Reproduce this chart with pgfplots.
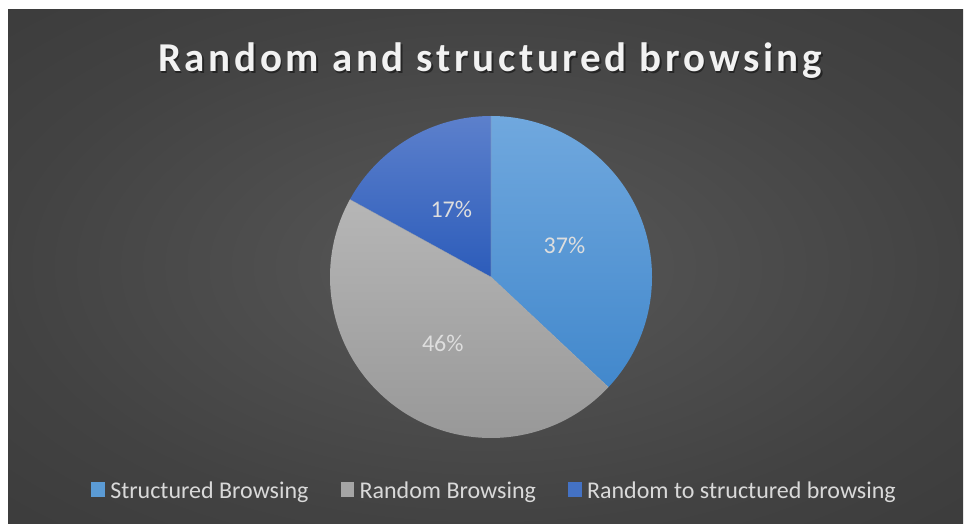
\documentclass[border=0pt]{standalone}
\usepackage{pgfplots}
\pgfplotsset{compat=1.18}
\usepackage{pgfplotstable}
\usepackage{fontspec}
\setmainfont{Carlito}
\newfontfamily\titlefont[LetterSpace=9]{Carlito}

\definecolor{bgin}{RGB}{88,88,88}
\definecolor{bgmid}{RGB}{52,52,52}
\definecolor{bgout}{RGB}{36,36,36}
\definecolor{sbtop}{RGB}{112,168,222}
\definecolor{sbbot}{RGB}{66,136,204}
\definecolor{rbtop}{RGB}{182,182,182}
\definecolor{rbbot}{RGB}{150,150,150}
\definecolor{rstop}{RGB}{92,128,204}
\definecolor{rsbot}{RGB}{44,92,186}
\definecolor{sbleg}{RGB}{91,155,213}
\definecolor{rbleg}{RGB}{165,165,165}
\definecolor{rsleg}{RGB}{68,114,196}
\definecolor{labtext}{RGB}{222,222,222}
\definecolor{legtext}{RGB}{217,217,217}
\definecolor{titletext}{RGB}{242,242,242}

\pgfdeclareradialshading{bgshade}{\pgfpoint{0bp}{0bp}}{color(0bp)=(bgin); color(25bp)=(bgmid!60!bgin); color(50bp)=(bgmid); color(72bp)=(bgout)}

\pgfplotstableread{
label value
Structured 37
Random 46
RandomToStructured 17
}\piedata

\pgfplotstablegetelem{0}{value}\of\piedata \let\va\pgfplotsretval
\pgfplotstablegetelem{1}{value}\of\piedata \let\vb\pgfplotsretval
\pgfplotstablegetelem{2}{value}\of\piedata \let\vc\pgfplotsretval
% angles (clockwise from 12 o'clock)
\pgfmathsetmacro\aA{90}
\pgfmathsetmacro\aB{\aA-3.6*\va}
\pgfmathsetmacro\aC{\aB-3.6*\vb}
\pgfmathsetmacro\aD{\aC-3.6*\vc}
\pgfmathsetmacro\mA{(\aA+\aB)/2}
\pgfmathsetmacro\mB{(\aB+\aC)/2}
\pgfmathsetmacro\mC{(\aC+\aD)/2}

\begin{document}
\begin{tikzpicture}
\fill[white] (0pt,0pt) rectangle (964pt,523pt);
\shade[shading=bgshade] (8pt,0pt) rectangle (963pt,513pt);
\begin{axis}[
  at={(0pt,0pt)}, anchor=south west,
  scale only axis, width=964pt, height=523pt,
  xmin=0, xmax=964, ymin=0, ymax=523,
  hide axis, clip=false,
  legend columns=3,
  legend style={at={(axis cs:91,32)}, anchor=base west, draw=none, fill=none,
    inner sep=0pt, text=legtext, font=\fontsize{24}{28}\selectfont,
    nodes={inner sep=0pt},
    /tikz/every odd column/.append style={column sep=5.5pt},
    /tikz/every even column/.append style={column sep=32pt}},
  legend image code/.code={\fill[#1, draw=none] (0pt,-6pt) rectangle (13.6pt,8.6pt);},
]
\addlegendimage{fill=sbleg, draw=none}
\addlegendentry{Structured Browsing}
\addlegendimage{fill=rbleg, draw=none}
\addlegendentry{Random Browsing}
\addlegendimage{fill=rsleg, draw=none}
\addlegendentry{Random to structured browsing}

\shade[top color=sbtop, bottom color=sbbot]
  (axis cs:491,246) -- ++(\aA:161pt) arc[start angle=\aA, end angle=\aB, radius=161pt] -- cycle;
\shade[top color=rbtop, bottom color=rbbot]
  (axis cs:491,246) -- ++(\aB:161pt) arc[start angle=\aB, end angle=\aC, radius=161pt] -- cycle;
\shade[top color=rstop, bottom color=rsbot]
  (axis cs:491,246) -- ++(\aC:161pt) arc[start angle=\aC, end angle=\aD, radius=161pt] -- cycle;
\draw[black!30, line width=0.3pt] (axis cs:491,246) -- ++(\aA:161pt)
  (axis cs:491,246) -- ++(\aB:161pt)
  (axis cs:491,246) -- ++(\aC:161pt);

\node[text=labtext, font=\fontsize{24}{28}\selectfont] at ([shift={(\mA:80pt)}]axis cs:491,246) {\va\%};
\node[text=labtext, font=\fontsize{24}{28}\selectfont] at ([shift={(\mB:82pt)}]axis cs:491,246) {\vb\%};
\node[text=labtext, font=\fontsize{24}{28}\selectfont] at ([shift={(\mC:78pt)}]axis cs:491,246) {\vc\%};

\node[anchor=base, text=black, opacity=0.45, font=\titlefont\bfseries\fontsize{41}{46}\selectfont] at ([shift={(1.5pt,-1.5pt)}]axis cs:490,451) {Random and structured browsing};
\node[anchor=base, text=titletext, font=\titlefont\bfseries\fontsize{41}{46}\selectfont] at (axis cs:490,451) {Random and structured browsing};
\end{axis}
\end{tikzpicture}
\end{document}
